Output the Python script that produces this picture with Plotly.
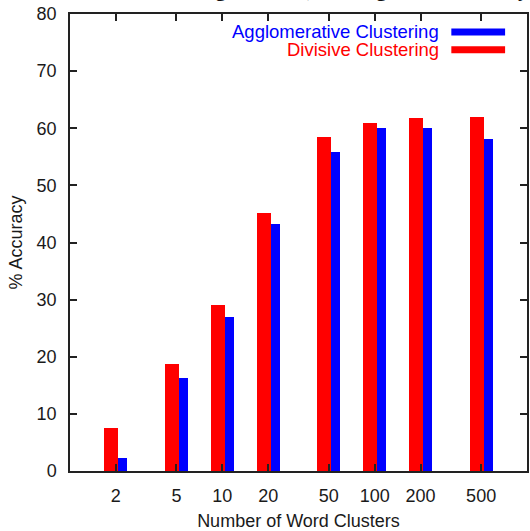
import numpy as np
import plotly.graph_objects as go

# Number of word clusters and % accuracy for each clustering method
clusters = [2, 5, 10, 20, 50, 100, 200, 500]
divisive = [7.5, 18.8, 29.1, 45.2, 58.5, 61.0, 61.8, 62.0]
agglomerative = [2.3, 16.2, 27.0, 43.2, 55.8, 60.1, 60.1, 58.2]
y_ticks = [0, 10, 20, 30, 40, 50, 60, 70, 80]

title_text = "Word Clustering Results (Training with Naive Bayes)"
label_agg = "Agglomerative Clustering"
label_div = "Divisive Clustering"

# x axis runs in log10 units from 1 to 1000
logx = np.log10(clusters)
decade_px = 459 / 3.0
red_off = -4.5 / decade_px
red_w = 14 / decade_px
blue_off = 7.0 / decade_px
blue_w = 9 / decade_px

fig = go.Figure()
fig.add_trace(go.Bar(
    x=logx + red_off, y=divisive, width=red_w,
    marker=dict(color="#ff0000", line=dict(width=0)),
    name=label_div, showlegend=False,
))
fig.add_trace(go.Bar(
    x=logx + blue_off, y=agglomerative, width=blue_w,
    marker=dict(color="#0000ff", line=dict(width=0)),
    name=label_agg, showlegend=False,
))

font = dict(family="Liberation Sans, Arial, sans-serif", size=18, color="#1a1a1a")
axis_common = dict(
    showgrid=False, zeroline=False, showline=True, linecolor="#222", linewidth=1.5,
    ticks="inside", ticklen=7, tickwidth=1.5, tickcolor="#222", mirror="allticks",
    tickfont=font,
)

fig.update_layout(
    width=530, height=531,
    margin=dict(l=70, r=1, t=14, b=58),
    paper_bgcolor="white", plot_bgcolor="white",
    barmode="overlay", bargap=0,
    font=font,
    xaxis=dict(
        range=[0, 3], tickmode="array", tickvals=logx,
        ticktext=[str(c) for c in clusters], ticklabelstandoff=8,
        title=dict(text="Number of Word Clusters", font=font, standoff=11),
        **axis_common,
    ),
    yaxis=dict(
        range=[0, 80], tickmode="array", tickvals=y_ticks,
        ticktext=[str(v) for v in y_ticks], ticklabelstandoff=8,
        title=dict(text="% Accuracy", font=font, standoff=9),
        **axis_common,
    ),
)

# Title sits mostly above the top edge of the page
fig.add_annotation(
    text="<b>" + title_text + "</b>", xref="paper", yref="paper",
    x=3 / 459, y=1, xanchor="left", yanchor="bottom", yshift=10.5,
    showarrow=False, font=dict(family="Liberation Serif, Times New Roman, serif", size=21, color="#111"),
)

# Key: label on the left, line sample on the right
key_rows = [(label_agg, "#0000ff", 32), (label_div, "#ff0000", 50)]
for text, color, ypx in key_rows:
    yp = (473 - ypx) / 459
    fig.add_annotation(
        text=text, xref="paper", yref="paper", x=(443 - 70) / 459, y=yp,
        xanchor="right", yanchor="middle", showarrow=False,
        font=dict(family=font["family"], size=18.5, color=color),
    )
    fig.add_shape(
        type="line", xref="paper", yref="paper",
        x0=(453 - 70) / 459, x1=(507 - 70) / 459, y0=yp, y1=yp,
        line=dict(color=color, width=7),
    )

fig.write_html("out.html")
